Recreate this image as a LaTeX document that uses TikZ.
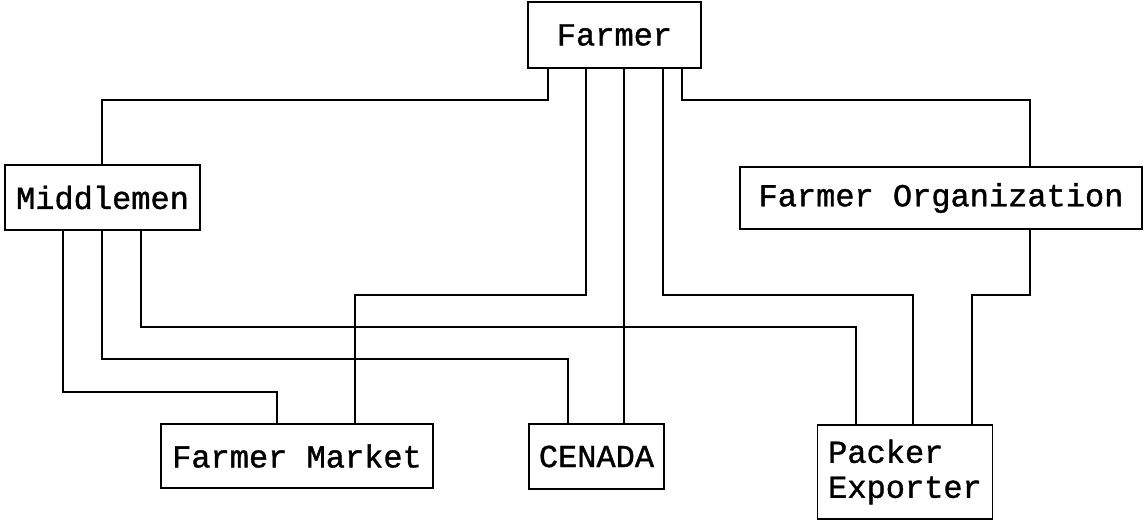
\documentclass[tikz,border=0pt]{standalone}
\usepackage{fontspec}
\setmonofont[FakeBold=1.2]{Liberation Mono}
\begin{document}
\begin{tikzpicture}[x=1pt,y=-1pt,
  box/.style={draw, line width=1.6pt, inner sep=0pt, font=\ttfamily\fontsize{32}{35}\selectfont},
  conn/.style={line width=1.6pt}]
\useasboundingbox (0,0) rectangle (1144,522);
\node[box, minimum width=173pt, minimum height=66pt] (farmer) at (614.5,35) {Farmer};
\node[box, minimum width=195pt, minimum height=65pt] (middle) at (102.5,197.5) {Middlemen};
\node[box, minimum width=402pt, minimum height=62pt] (org) at (941,198) {Farmer Organization};
\node[box, minimum width=272pt, minimum height=64pt] (market) at (297,456) {Farmer Market};
\node[box, minimum width=135pt, minimum height=65pt] (cenada) at (596.5,456.5) {CENADA};
\node[box, minimum width=175pt, minimum height=94pt, align=left] (packer) at (905,472) {Packer\\Exporter};
% column and row coordinates
\coordinate (c548) at (548,0);
\coordinate (c586) at (586,0);
\coordinate (c624) at (624,0);
\coordinate (c663) at (663,0);
\coordinate (c682) at (682,0);
\coordinate (c63) at (63,0);
\coordinate (c102) at (102,0);
\coordinate (c141) at (141,0);
\coordinate (c1030) at (1030,0);
\coordinate (c277) at (277,0);
\coordinate (c355) at (355,0);
\coordinate (c568) at (568,0);
\coordinate (c856) at (856,0);
\coordinate (c913) at (913,0);
\coordinate (c972) at (972,0);
\coordinate (r100) at (0,100);
\coordinate (r295) at (0,295);
\coordinate (r327) at (0,327);
\coordinate (r359) at (0,359);
\coordinate (r392) at (0,392);
% connectors
\draw[conn] (farmer.south -| c548) -- (c548 |- r100) -| (middle.north -| c102);
\draw[conn] (farmer.south -| c682) -- (c682 |- r100) -| (org.north -| c1030);
\draw[conn] (farmer.south -| c586) -- (c586 |- r295) -| (market.north -| c355);
\draw[conn] (farmer.south -| c624) -- (cenada.north -| c624);
\draw[conn] (farmer.south -| c663) -- (c663 |- r295) -| (packer.north -| c913);
\draw[conn] (middle.south -| c141) -- (c141 |- r327) -| (packer.north -| c856);
\draw[conn] (middle.south -| c102) -- (c102 |- r359) -| (cenada.north -| c568);
\draw[conn] (middle.south -| c63) -- (c63 |- r392) -| (market.north -| c277);
\draw[conn] (org.south -| c1030) -- (c1030 |- r295) -| (packer.north -| c972);
\end{tikzpicture}
\end{document}
